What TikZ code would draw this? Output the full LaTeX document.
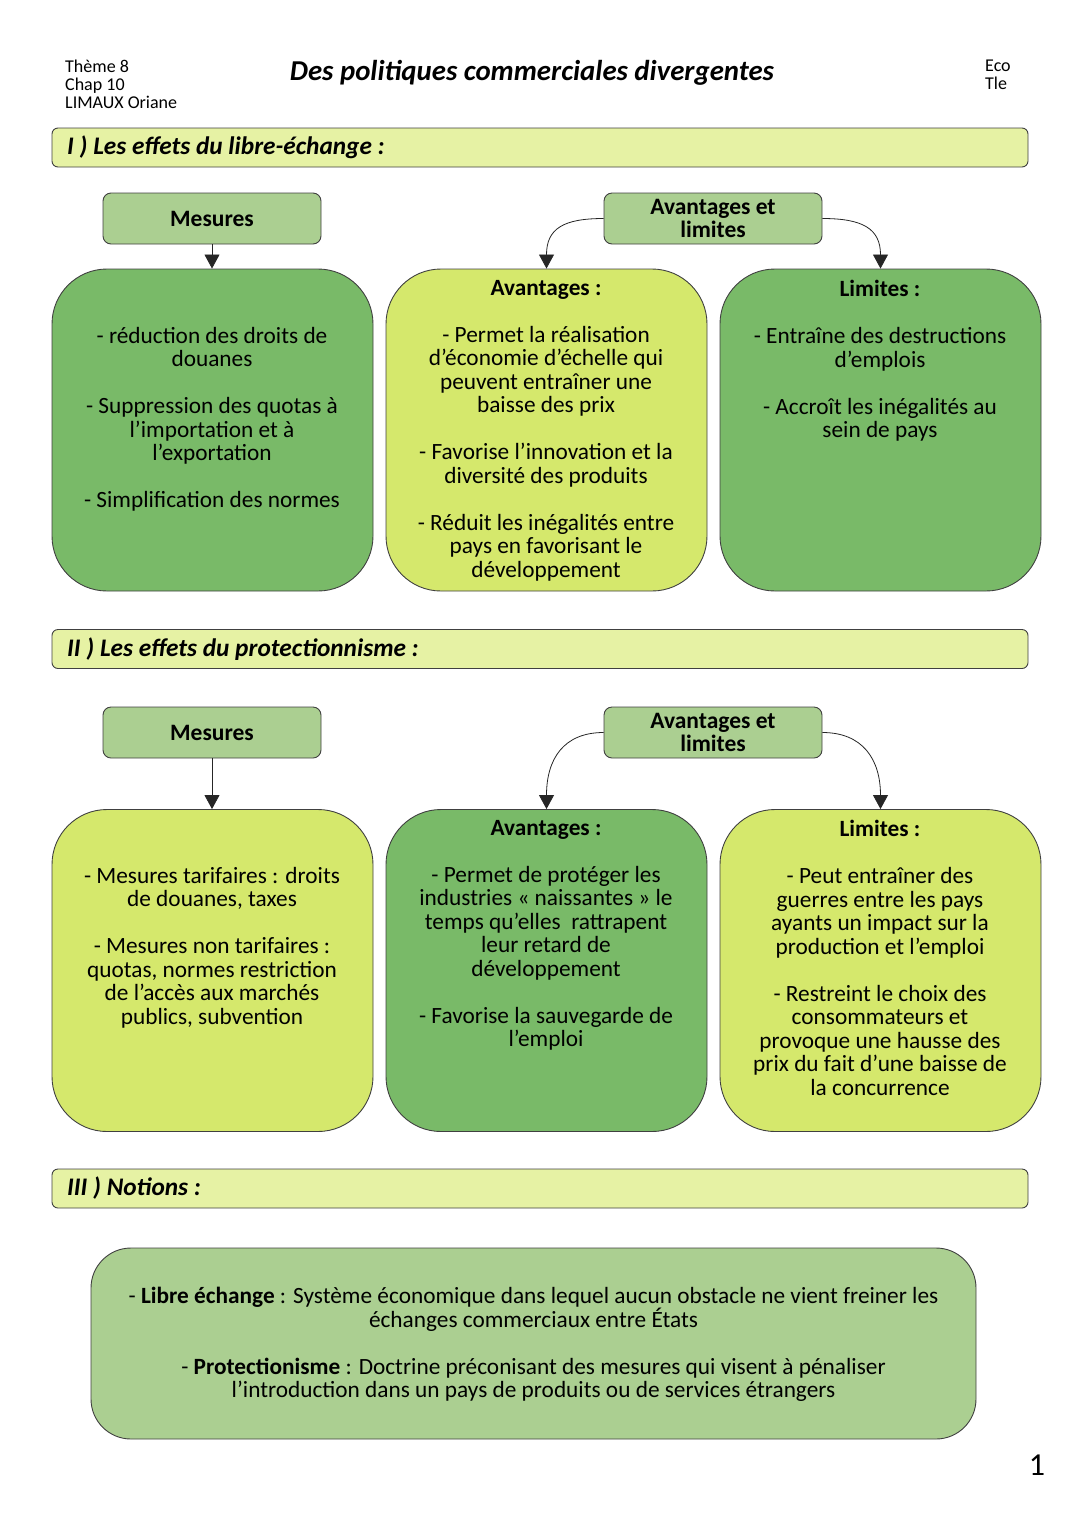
\documentclass[tikz,border=0pt]{standalone}
\usepackage{fontspec}
\setmainfont{Carlito}
\usetikzlibrary{arrows.meta}
\definecolor{gmed}{HTML}{79BA68}
\definecolor{gyel}{HTML}{D5E86C}
\definecolor{glight}{HTML}{ABCF91}
\definecolor{banner}{HTML}{E6F2A4}
\definecolor{edge}{HTML}{404040}
\begin{document}
\begin{tikzpicture}[x=1pt,y=-1pt,
 bigbox/.style={draw=edge, line width=0.9pt, rounded corners=55pt, minimum width=321pt, minimum height=322pt, inner sep=0pt},
 smallbox/.style={draw=edge, line width=0.9pt, fill=glight, rounded corners=8pt, minimum width=218pt, minimum height=51pt, align=center, font=\fontsize{23.5}{23}\selectfont\bfseries, inner sep=0pt},
 bannerbox/.style={draw=edge, line width=0.9pt, fill=banner, rounded corners=6pt, minimum width=976pt, minimum height=39pt, inner sep=0pt},
 bantext/.style={anchor=west, font=\fontsize{25.3}{28}\selectfont\bfseries\itshape, inner sep=0pt},
 body/.style={align=center, anchor=north, inner sep=0pt, font=\fontsize{23.3}{23.5}\selectfont, execute at begin node=\strut},
 arr/.style={-{Triangle[width=15pt,length=14pt]}, line width=0.8pt, draw=black!85},
 small/.style={align=left, anchor=north west, inner sep=0pt, font=\fontsize{18}{18}\selectfont, execute at begin node=\strut}
]
\useasboundingbox (0,0) rectangle (1080,1527);

% header
\node[small] (hdl) at (65,60) {Thème 8\\Chap 10\\LIMAUX Oriane};
\node[small] (hdr) at (985,60) {Eco\\Tle};
\node[inner sep=0pt, font=\fontsize{28.8}{32}\selectfont\bfseries\itshape] (title) at (532,72.5) {Des politiques commerciales divergentes};

% section I
\node[bannerbox] (ban1) at (540,147.5) {};
\node[bantext] (ban1t) at (67,147.5) {I ) Les effets du libre-échange :};
\node[smallbox] (mes1) at (212,218.5) {Mesures};
\node[smallbox] (al1) at (713,218.5) {Avantages et\\limites};
\node[bigbox, fill=gmed] (b11) at (212.5,430) {};
\node[bigbox, fill=gyel] (b12) at (546.5,430) {};
\node[bigbox, fill=gmed] (b13) at (880.5,430) {};
\node[body] (t11) at (212,327) {- réduction des droits de\\douanes\\[23.5pt]- Suppression des quotas à\\l’importation et à\\l’exportation\\[23.5pt]- Simplification des normes};
\node[body] (t12) at (546,280) {\textbf{Avantages :}\\[23.5pt]- Permet la réalisation\\d’économie d’échelle qui\\peuvent entraîner une\\baisse des prix\\[23.5pt]- Favorise l’innovation et la\\diversité des produits\\[23.5pt]- Réduit les inégalités entre\\pays en favorisant le\\développement};
\node[body] (t13) at (880,280) {\textbf{Limites :}\\[23.5pt]- Entraîne des destructions\\d’emplois\\[23.5pt]- Accroît les inégalités au\\sein de pays};
\draw[arr] (mes1.south) -- (mes1.south |- b11.north);
\draw[arr] (al1.west) .. controls +(-40,0) and +(0,-40) .. (b12.north);
\draw[arr] (al1.east) .. controls +(40,0) and +(0,-40) .. (b13.north);

% section II
\node[bannerbox] (ban2) at (540,649) {};
\node[bantext] (ban2t) at (67,649) {II ) Les effets du protectionnisme :};
\node[smallbox] (mes2) at (212,732.5) {Mesures};
\node[smallbox] (al2) at (713,732.5) {Avantages et\\limites};
\node[bigbox, fill=gyel] (b21) at (212.5,970.5) {};
\node[bigbox, fill=gmed] (b22) at (546.5,970.5) {};
\node[bigbox, fill=gyel] (b23) at (880.5,970.5) {};
\node[body] (t21) at (212,867) {- Mesures tarifaires : droits\\de douanes, taxes\\[23.5pt]- Mesures non tarifaires :\\quotas, normes restriction\\de l’accès aux marchés\\publics, subvention};
\node[body] (t22) at (546,820) {\textbf{Avantages :}\\[23.5pt]- Permet de protéger les\\industries « naissantes » le\\temps qu’elles\ \ rattrapent\\leur retard de\\développement\\[23.5pt]- Favorise la sauvegarde de\\l’emploi};
\node[body] (t23) at (880,820) {\textbf{Limites :}\\[23.5pt]- Peut entraîner des\\guerres entre les pays\\ayants un impact sur la\\production et l’emploi\\[23.5pt]- Restreint le choix des\\consommateurs et\\provoque une hausse des\\prix du fait d’une baisse de\\la concurrence};
\draw[arr] (mes2.south) -- (mes2.south |- b21.north);
\draw[arr] (al2.west) .. controls +(-40,0) and +(0,-50) .. (b22.north);
\draw[arr] (al2.east) .. controls +(40,0) and +(0,-50) .. (b23.north);

% section III
\node[bannerbox] (ban3) at (540,1188.5) {};
\node[bantext] (ban3t) at (67,1188.5) {III ) Notions :};
\node[draw=edge, line width=0.9pt, fill=glight, rounded corners=40pt, minimum width=885pt, minimum height=191pt, inner sep=0pt] (notions) at (533.5,1343.5) {};
\node[body] (tn) at (533.5,1287) {- \textbf{Libre échange} : Système économique dans lequel aucun obstacle ne vient freiner les\\échanges commerciaux entre États\\[23.5pt]- \textbf{Protectionisme} : Doctrine préconisant des mesures qui visent à pénaliser\\l’introduction dans un pays de produits ou de services étrangers};

\node[inner sep=0pt, font=\fontsize{32}{34}\selectfont] (page) at (1037,1465) {1};
\end{tikzpicture}
\end{document}
